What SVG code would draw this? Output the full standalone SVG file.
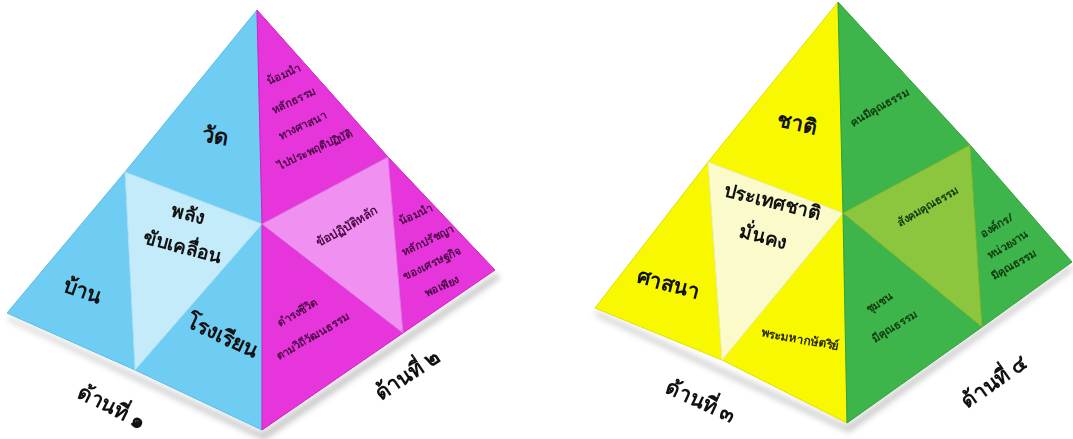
<svg xmlns="http://www.w3.org/2000/svg" width="1073" height="439" viewBox="0 0 1073 439">
<defs>
<filter id="sh" x="-10%" y="-10%" width="120%" height="130%">
<feGaussianBlur stdDeviation="3"/>
</filter>
<style>
text{font-family:"Noto Sans","DejaVu Sans",sans-serif;font-weight:bold;text-anchor:middle;dominant-baseline:middle}
.big{font-size:21px;fill:#111}
.lbl{font-size:21px;fill:#111}
.sm{font-size:11px}
.pk{fill:#4a0845}
.gr{fill:#103a0e}
.yl{fill:#2a2a00}
.edge{stroke-width:1;stroke-linejoin:round}
</style>
</defs>
<rect width="1073" height="439" fill="#fff"/>
<g id="shadows" opacity="0.45">
<polygon points="7,316 262,433 497,273 500,278 264,440 9,320" fill="#777" filter="url(#sh)"/>
<polygon points="595,311 847,426 1072,265 1072,270 849,432 597,316" fill="#777" filter="url(#sh)"/>
</g>
<g id="connectors"></g>
<!-- Pyramid 1 left face (blue) -->
<g id="n-wat"><polygon class="edge" points="257,10 125,172 262,224" fill="#6fcdf3" stroke="#5bbde6"/>
<text class="big" x="215" y="137" transform="rotate(10 215 137)" style="font-size:22px">วัด</text></g>
<g id="n-ban"><polygon class="edge" points="125,172 7,313 135,370" fill="#6fcdf3" stroke="#5bbde6"/>
<text class="big" x="82" y="292" transform="rotate(20 82 292)">บ้าน</text></g>
<g id="n-school"><polygon class="edge" points="262,224 135,370 262,430" fill="#6fcdf3" stroke="#5bbde6"/>
<text class="big" x="222" y="337" transform="rotate(25 222 337)">โรงเรียน</text></g>
<g id="n-power"><polygon class="edge" points="125,172 262,224 135,370" fill="#c4ebfa" stroke="#a8dff4"/>
<text class="big" x="188" y="215" transform="rotate(15 188 215)" style="font-size:19px">พลัง</text>
<text class="big" x="182" y="248" transform="rotate(15 182 248)" style="font-size:19px">ขับเคลื่อน</text></g>
<!-- Pyramid 1 right face (magenta) -->
<g id="n-m-top"><polygon class="edge" points="257,10 262,224 388,157" fill="#e535db" stroke="#cc22c4"/>
<text class="sm pk" x="284" y="75" transform="rotate(-25 284 75)">น้อมนำ</text>
<text class="sm pk" x="294" y="101" transform="rotate(-25 294 101)">หลักธรรม</text>
<text class="sm pk" x="303" y="126" transform="rotate(-25 303 126)">ทางศาสนา</text>
<text class="sm pk" x="315" y="150" transform="rotate(-25 315 150)">ไปประพฤติปฏิบัติ</text></g>
<g id="n-m-right"><polygon class="edge" points="388,157 495,270 403,333" fill="#e535db" stroke="#cc22c4"/>
<text class="sm pk" x="416" y="215" transform="rotate(-25 416 215)">น้อมนำ</text>
<text class="sm pk" x="428" y="241" transform="rotate(-25 428 241)">หลักปรัชญา</text>
<text class="sm pk" x="432" y="264" transform="rotate(-25 432 264)">ของเศรษฐกิจ</text>
<text class="sm pk" x="442" y="287" transform="rotate(-25 442 287)">พอเพียง</text></g>
<g id="n-m-bottom"><polygon class="edge" points="262,224 403,333 262,430" fill="#e535db" stroke="#cc22c4"/>
<text class="sm pk" x="298" y="313" transform="rotate(-30 298 313)">ดำรงชีวิต</text>
<text class="sm pk" x="313" y="337" transform="rotate(-30 313 337)">ตามวิถีวัฒนธรรม</text></g>
<g id="n-m-center"><polygon class="edge" points="262,224 388,157 403,333" fill="#f090f0" stroke="#e070e6"/>
<text class="sm pk" x="347" y="227" transform="rotate(-30 347 227)" style="font-size:12px">ข้อปฏิบัติหลัก</text></g>
<g id="n-side1"><text class="lbl" x="111" y="408" transform="rotate(27 111 408)">ด้านที่ ๑</text></g>
<g id="n-side2"><text class="lbl" x="408" y="376" transform="rotate(-34 408 376)">ด้านที่ ๒</text></g>
<!-- Pyramid 2 left face (yellow) -->
<g id="n-chat"><polygon class="edge" points="838,2 708,162 843,213" fill="#f8f800" stroke="#e0e000"/>
<text class="big" x="797" y="125" transform="rotate(12 797 125)">ชาติ</text></g>
<g id="n-religion"><polygon class="edge" points="708,162 595,308 722,360" fill="#f8f800" stroke="#e0e000"/>
<text class="big" x="668" y="285" transform="rotate(15 668 285)">ศาสนา</text></g>
<g id="n-king"><polygon class="edge" points="843,213 722,360 847,423" fill="#f8f800" stroke="#e0e000"/>
<text class="sm yl" x="800" y="340" transform="rotate(10 800 340)" style="font-size:12px">พระมหากษัตริย์</text></g>
<g id="n-nation"><polygon class="edge" points="708,162 843,213 722,360" fill="#fafacb" stroke="#eeeeb0"/>
<text class="big" x="772" y="203" transform="rotate(14 772 203)" style="font-size:19px">ประเทศชาติ</text>
<text class="big" x="763" y="238" transform="rotate(14 763 238)" style="font-size:19px">มั่นคง</text></g>
<!-- Pyramid 2 right face (green) -->
<g id="n-g-top"><polygon class="edge" points="838,2 843,213 970,145" fill="#3db54a" stroke="#2fa03c"/>
<text class="sm gr" x="880" y="108" transform="rotate(-30 880 108)">คนมีคุณธรรม</text></g>
<g id="n-g-right"><polygon class="edge" points="970,145 1072,262 982,327" fill="#3db54a" stroke="#2fa03c"/>
<text class="sm gr" x="997" y="226" transform="rotate(-30 997 226)">องค์กร/</text>
<text class="sm gr" x="1008" y="245" transform="rotate(-30 1008 245)">หน่วยงาน</text>
<text class="sm gr" x="1014" y="265" transform="rotate(-30 1014 265)">มีคุณธรรม</text></g>
<g id="n-g-bottom"><polygon class="edge" points="843,213 982,327 847,423" fill="#3db54a" stroke="#2fa03c"/>
<text class="sm gr" x="880" y="303" transform="rotate(-32 880 303)">ชุมชน</text>
<text class="sm gr" x="895" y="327" transform="rotate(-32 895 327)">มีคุณธรรม</text></g>
<g id="n-g-center"><polygon class="edge" points="843,213 970,145 982,327" fill="#8cc63f" stroke="#7ab530"/>
<text class="sm gr" x="928" y="207" transform="rotate(-30 928 207)">สังคมคุณธรรม</text></g>
<g id="n-side3"><text class="lbl" x="700" y="402" transform="rotate(25 700 402)">ด้านที่ ๓</text></g>
<g id="n-side4"><text class="lbl" x="995" y="383" transform="rotate(-35 995 383)">ด้านที่ ๔</text></g>
</svg>
